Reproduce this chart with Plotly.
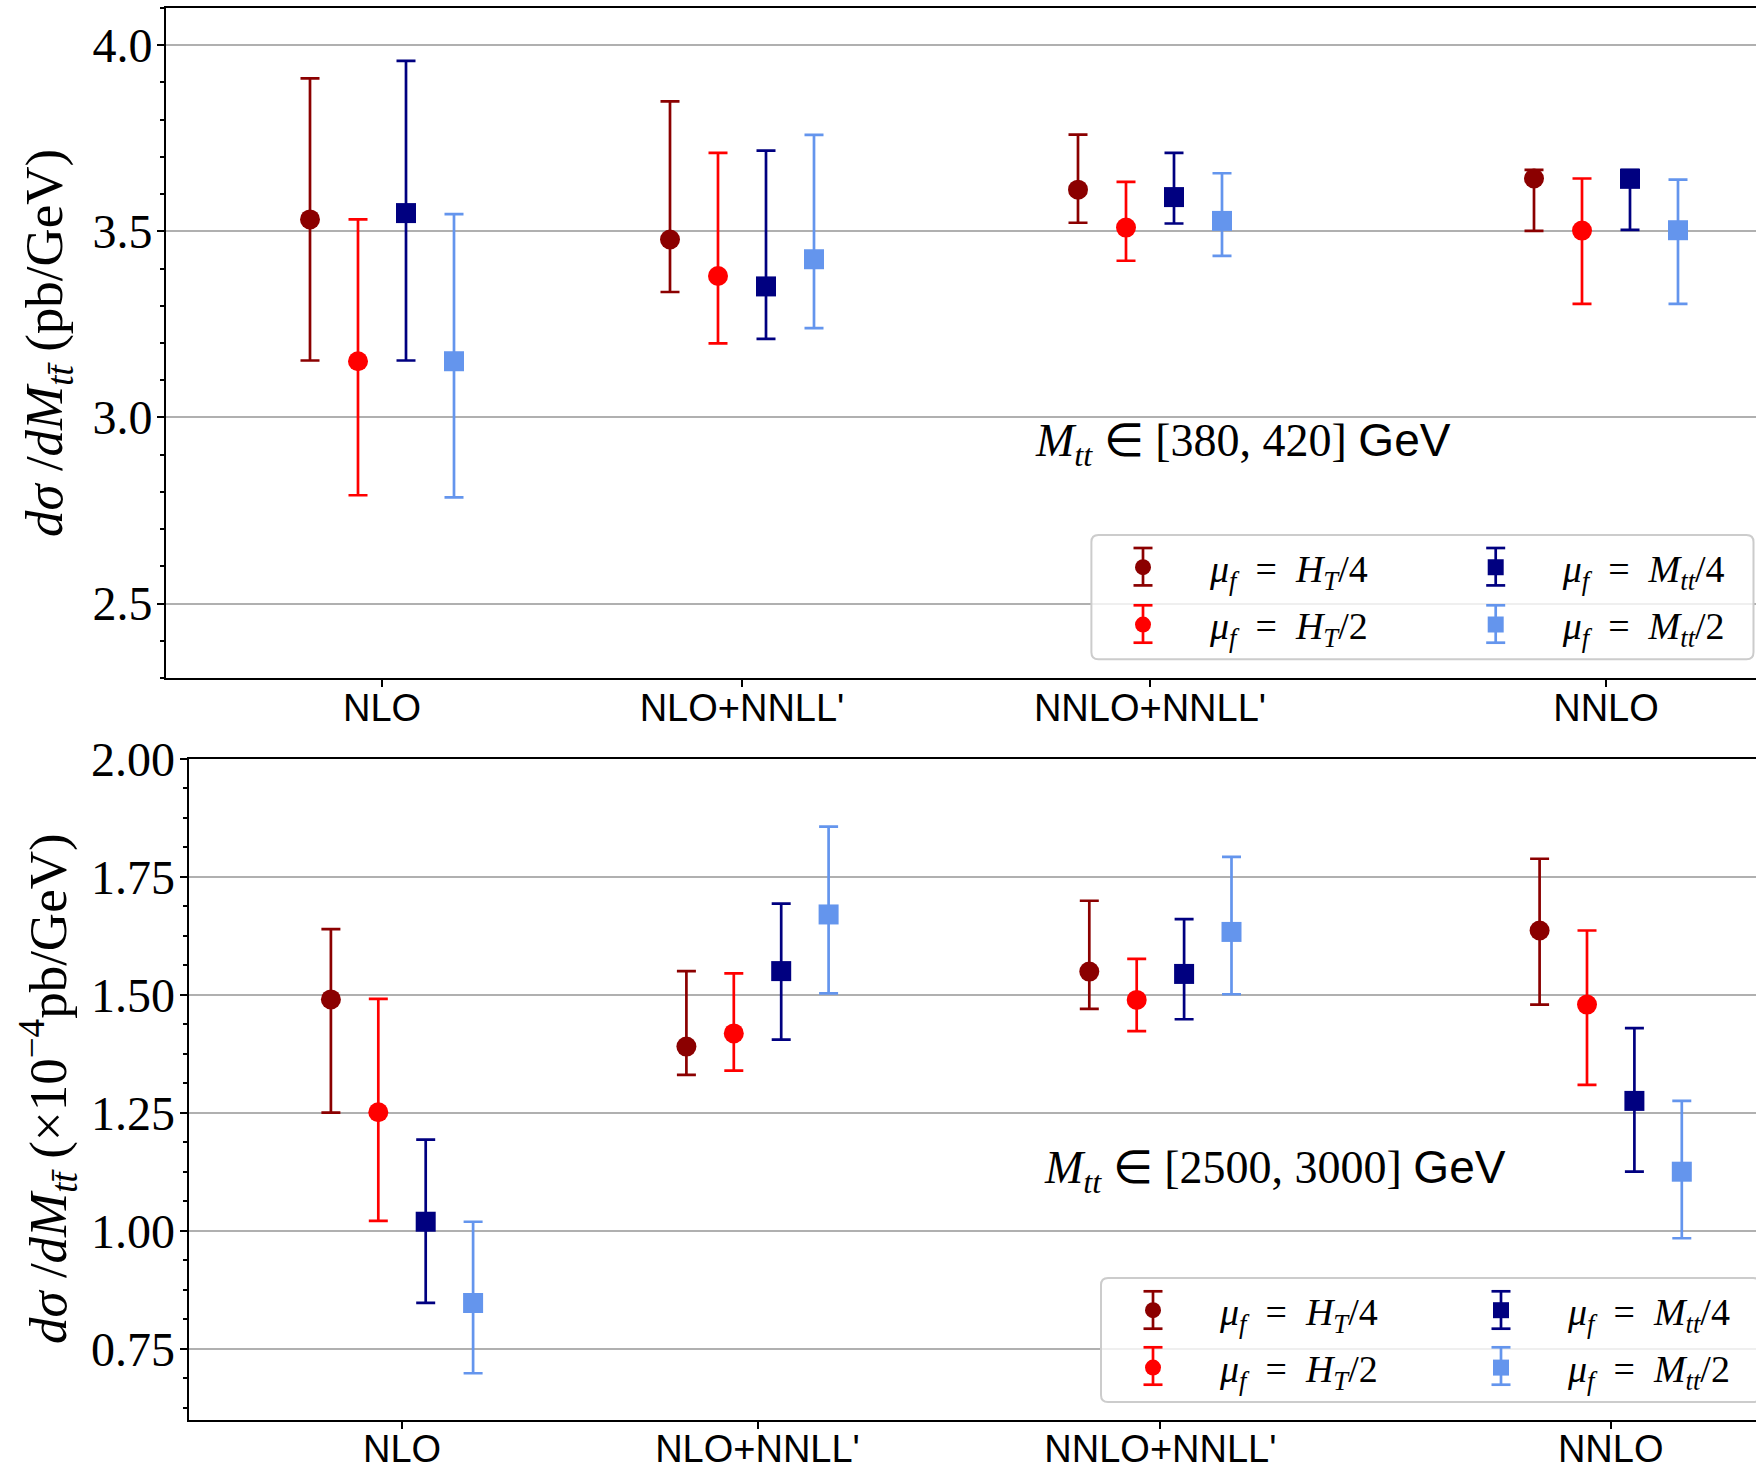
import plotly.graph_objects as go

W, H = 1756, 1472

# ---------------- data ----------------
categories = ["NLO", "NLO+NNLL'", "NNLO+NNLL'", "NNLO"]
category_pos = [0.0, 7.5, 16.0, 25.5]

series_labels = [
    "<i>μ</i><sub><i>f</i></sub>\u00a0\u00a0=\u00a0\u00a0<i>H</i><sub><i>T</i></sub>/4",
    "<i>μ</i><sub><i>f</i></sub>\u00a0\u00a0=\u00a0\u00a0<i>H</i><sub><i>T</i></sub>/2",
    "<i>μ</i><sub><i>f</i></sub>\u00a0\u00a0=\u00a0\u00a0<i>M</i><sub><i>tt</i></sub>/4",
    "<i>μ</i><sub><i>f</i></sub>\u00a0\u00a0=\u00a0\u00a0<i>M</i><sub><i>tt</i></sub>/2",
]
series_colors = ["#8b0000", "#ff0000", "#000080", "#6495ed"]
series_symbols = ["circle", "circle", "square", "square"]
series_offsets = [-1.5, -0.5, 0.5, 1.5]

# top panel: M_tt in [380, 420] GeV  (pb/GeV)
top_ht4 = [3.532, 3.478, 3.612, 3.642]
top_ht4_lo = [3.153, 3.337, 3.523, 3.501]
top_ht4_hi = [3.911, 3.849, 3.760, 3.665]
top_ht2 = [3.151, 3.380, 3.510, 3.502]
top_ht2_lo = [2.791, 3.199, 3.421, 3.305]
top_ht2_hi = [3.532, 3.711, 3.633, 3.642]
top_mtt4 = [3.549, 3.352, 3.592, 3.641]
top_mtt4_lo = [3.153, 3.211, 3.521, 3.504]
top_mtt4_hi = [3.958, 3.717, 3.711, 3.665]
top_mtt2 = [3.151, 3.425, 3.528, 3.503]
top_mtt2_lo = [2.785, 3.240, 3.434, 3.305]
top_mtt2_hi = [3.546, 3.759, 3.656, 3.639]

# bottom panel: M_tt in [2500, 3000] GeV  (x 1e-4 pb/GeV)
bot_ht4 = [1.490, 1.390, 1.549, 1.636]
bot_ht4_lo = [1.250, 1.330, 1.470, 1.479]
bot_ht4_hi = [1.639, 1.550, 1.699, 1.788]
bot_ht2 = [1.251, 1.418, 1.489, 1.479]
bot_ht2_lo = [1.021, 1.339, 1.423, 1.309]
bot_ht2_hi = [1.491, 1.545, 1.576, 1.636]
bot_mtt4 = [1.019, 1.550, 1.544, 1.275]
bot_mtt4_lo = [0.847, 1.405, 1.448, 1.125]
bot_mtt4_hi = [1.193, 1.693, 1.660, 1.429]
bot_mtt2 = [0.847, 1.670, 1.633, 1.125]
bot_mtt2_lo = [0.698, 1.503, 1.501, 0.984]
bot_mtt2_hi = [1.019, 1.856, 1.792, 1.275]

top_series = [(top_ht4, top_ht4_lo, top_ht4_hi), (top_ht2, top_ht2_lo, top_ht2_hi),
              (top_mtt4, top_mtt4_lo, top_mtt4_hi), (top_mtt2, top_mtt2_lo, top_mtt2_hi)]
bot_series = [(bot_ht4, bot_ht4_lo, bot_ht4_hi), (bot_ht2, bot_ht2_lo, bot_ht2_hi),
              (bot_mtt4, bot_mtt4_lo, bot_mtt4_hi), (bot_mtt2, bot_mtt2_lo, bot_mtt2_hi)]


# ---------------- helpers (layout in pixels) ----------------
def fx(p):
    return p / W


def fy(p):
    return 1 - p / H


TOP = dict(left=166.0, top=8.0, bottom=678.0, unit=48.0)
BOT = dict(left=188.7, top=758.7, bottom=1419.5, unit=47.4)

fig = go.Figure()

panels = [
    ("x", "y", top_series, ("legend", "legend2"), "t"),
    ("x2", "y2", bot_series, ("legend3", "legend4"), "b"),
]
for xa, ya, series, legs, tag in panels:
    for i, (c, lo, hi) in enumerate(series):
        fig.add_trace(go.Scatter(
            x=[g + series_offsets[i] for g in category_pos],
            y=c,
            mode="markers",
            marker=dict(symbol=series_symbols[i], size=20, color=series_colors[i],
                        line=dict(width=0)),
            error_y=dict(type="data", symmetric=False,
                         array=[h - v for h, v in zip(hi, c)],
                         arrayminus=[v - l for v, l in zip(c, lo)],
                         color=series_colors[i], thickness=2.7, width=9.5),
            name=series_labels[i],
            legend=legs[i // 2],
            legendgroup=f"{tag}{i}",
            xaxis=xa, yaxis=ya,
            showlegend=True,
        ))

axis_line = dict(showline=True, linecolor="black", linewidth=2, zeroline=False)

xcommon = dict(tickmode="array", tickvals=category_pos, ticktext=categories,
               ticks="outside", ticklen=7, tickwidth=2, tickcolor="black",
               showgrid=False, mirror=True,
               tickfont=dict(family="Liberation Sans", size=38, color="black"),
               ticklabelstandoff=-12, automargin=False, **axis_line)
ycommon = dict(ticks="outside", ticklen=7, tickwidth=2, tickcolor="black",
               showgrid=True, gridcolor="#b0b0b0", gridwidth=1.5,
               tickfont=dict(family="Liberation Serif", size=48, color="black"),
               ticklabelstandoff=-5, automargin=False, **axis_line)

fig.update_layout(
    width=W, height=H,
    margin=dict(l=0, r=0, t=0, b=0),
    paper_bgcolor="white", plot_bgcolor="white",
    xaxis=dict(domain=[fx(TOP["left"]), 1], anchor="y",
               range=[-4.5, -4.5 + (W - TOP["left"]) / TOP["unit"]], **xcommon),
    yaxis=dict(domain=[fy(TOP["bottom"]), fy(TOP["top"])], anchor="x",
               range=[2.3, 4.1], tickmode="linear", tick0=2.5, dtick=0.5, tickformat=".1f",
               minor=dict(ticks="outside", ticklen=4, tickwidth=1.5, tickcolor="black",
                          tick0=0, dtick=0.1, showgrid=False),
               **ycommon),
    xaxis2=dict(domain=[fx(BOT["left"]), 1], anchor="y2",
                range=[-4.5, -4.5 + (W - BOT["left"]) / BOT["unit"]], **xcommon),
    yaxis2=dict(domain=[fy(BOT["bottom"]), fy(BOT["top"])], anchor="x2",
                range=[0.6, 2.0], tickmode="linear", tick0=0.75, dtick=0.25, tickformat=".2f",
                minor=dict(ticks="outside", ticklen=4, tickwidth=1.5, tickcolor="black",
                           tick0=0, dtick=0.0625, showgrid=False),
                **ycommon),
)


def legend_cfg(xpx, ypx):
    return dict(x=fx(xpx), y=fy(ypx), xanchor="left", yanchor="top", orientation="v",
                bgcolor="rgba(0,0,0,0)", borderwidth=0, itemwidth=124,
                tracegroupgap=5, itemsizing="trace",
                font=dict(family="Liberation Serif", size=38, color="black"))


# legend item marker centres (px)
leg_rows_top = [566.7, 624.0]
leg_rows_bot = [1310.0, 1366.0]
leg_cols_top = [1143.0, 1495.7]
leg_cols_bot = [1153.0, 1501.0]

fig.update_layout(
    legend=legend_cfg(leg_cols_top[0] - 67, 536),
    legend2=legend_cfg(leg_cols_top[1] - 67, 536),
    legend3=legend_cfg(leg_cols_bot[0] - 67, 1279),
    legend4=legend_cfg(leg_cols_bot[1] - 67, 1279),
)


# legend frames (rounded, translucent) and error-bar glyphs
def rounded_rect(x0, y0, x1, y1, r):
    pts = [
        f"M {fx(x0 + r)} {fy(y0)}", f"L {fx(x1 - r)} {fy(y0)}",
        f"Q {fx(x1)} {fy(y0)} {fx(x1)} {fy(y0 + r)}", f"L {fx(x1)} {fy(y1 - r)}",
        f"Q {fx(x1)} {fy(y1)} {fx(x1 - r)} {fy(y1)}", f"L {fx(x0 + r)} {fy(y1)}",
        f"Q {fx(x0)} {fy(y1)} {fx(x0)} {fy(y1 - r)}", f"L {fx(x0)} {fy(y0 + r)}",
        f"Q {fx(x0)} {fy(y0)} {fx(x0 + r)} {fy(y0)}", "Z",
    ]
    return " ".join(pts)


shapes = []
for (x0, y0, x1, y1) in [(1091.4, 535.0, 1753.5, 659.3), (1101.0, 1278.0, 1760.0, 1402.0)]:
    shapes.append(dict(type="path", path=rounded_rect(x0, y0, x1, y1, 7), xref="paper", yref="paper",
                       fillcolor="rgba(255,255,255,0.8)", line=dict(color="#cccccc", width=2),
                       layer="above"))

for cols, rows in [(leg_cols_top, leg_rows_top), (leg_cols_bot, leg_rows_bot)]:
    for k in range(4):
        mx = cols[k // 2]
        my = rows[k % 2]
        col = series_colors[k]
        for (a, b, c2, d) in [(mx, my - 18.7, mx, my + 18.7),
                              (mx - 9.5, my - 18.7, mx + 9.5, my - 18.7),
                              (mx - 9.5, my + 18.7, mx + 9.5, my + 18.7)]:
            shapes.append(dict(type="line", xref="paper", yref="paper",
                               x0=fx(a), y0=fy(b), x1=fx(c2), y1=fy(d),
                               line=dict(color=col, width=2.7), layer="above"))

fig.update_layout(shapes=shapes)

# texts
serif = "Liberation Serif"
annotations = [
    dict(text="<i>dσ</i> /<i>dM</i><sub><i>tt̄</i></sub> (pb/GeV)",
         x=fx(48), y=fy(343), textangle=-90),
    dict(text="<i>dσ</i> /<i>dM</i><sub><i>tt̄</i></sub> (×10<sup>−4</sup>pb/GeV)",
         x=fx(48), y=fy(1089), textangle=-90),
]
for a in annotations:
    a.update(xref="paper", yref="paper", showarrow=False, xanchor="center", yanchor="middle",
             font=dict(family=serif, size=53, color="black"))

annotations += [
    dict(text="<i>M</i><sub><i>tt</i></sub> ∈ [380, 420] <span style='font-family:Liberation Sans'>GeV</span>",
         x=fx(1033), y=fy(443), xanchor="left", yanchor="middle"),
    dict(text="<i>M</i><sub><i>tt</i></sub> ∈ [2500, 3000] <span style='font-family:Liberation Sans'>GeV</span>",
         x=fx(1042), y=fy(1170), xanchor="left", yanchor="middle"),
]
for a in annotations[2:]:
    a.update(xref="paper", yref="paper", showarrow=False,
             font=dict(family=serif, size=46, color="black"))

fig.update_layout(annotations=annotations)

fig.write_html("out.html")
